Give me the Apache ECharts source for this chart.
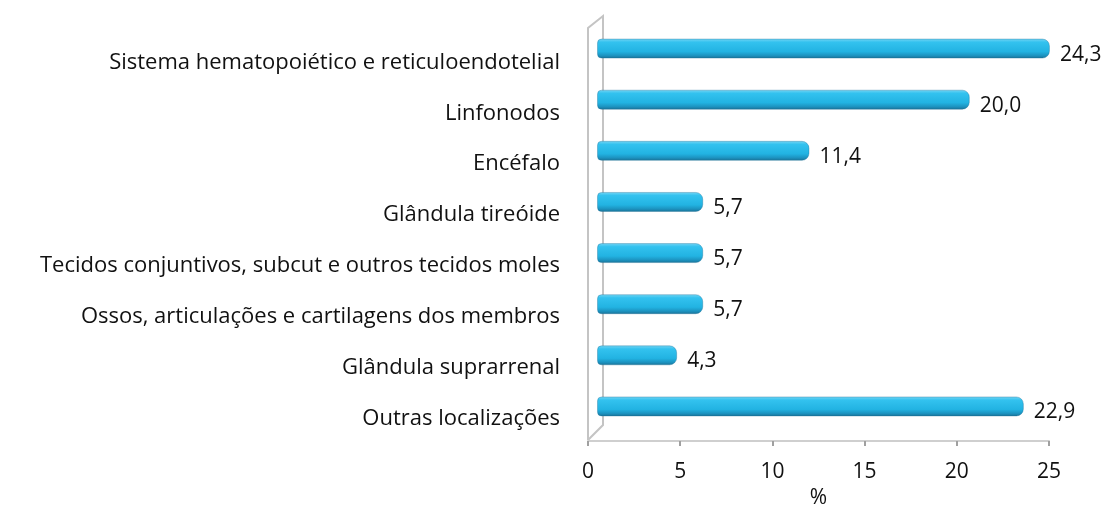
<!DOCTYPE html>
<html>
<head>
<meta charset="utf-8">
<script src="https://cdn.jsdelivr.net/npm/echarts@6/dist/echarts.min.js"></script>
<style>
  html, body { margin: 0; padding: 0; background: #fff; }
  #chart { width: 1110px; height: 507px; }
</style>
</head>
<body>
<div id="chart"></div>
<script>
// Localização dos tumores (%)
const categories = [
  'Sistema hematopoiético e reticuloendotelial',
  'Linfonodos',
  'Encéfalo',
  'Glândula tireóide',
  'Tecidos conjuntivos, subcut e outros tecidos moles',
  'Ossos, articulações e cartilagens dos membros',
  'Glândula suprarrenal',
  'Outras localizações'
];
const values = [24.3, 20.0, 11.4, 5.7, 5.7, 5.7, 4.3, 22.9];
const xTicks = [0, 5, 10, 15, 20, 25];

const FONT = 'Open Sans';
const fmt = v => v.toFixed(1).replace('.', ',');

// front plane (value axis), label column, and back plane (bars) of the 3D box
const axisGrid = { left: 588, right: 61, top: 34, bottom: 66, outerBoundsMode: 'none' };
const labelGrid = { left: 588, right: 61, top: 37, bottom: 63, outerBoundsMode: 'none' };
const barGrid = { left: 597, right: 47, top: 23, bottom: 75, outerBoundsMode: 'none' };

const chart = echarts.init(document.getElementById('chart'), null, { renderer: 'canvas' });

const barGradient = new echarts.graphic.LinearGradient(0, 0, 0, 1, [
  { offset: 0, color: '#7ad6f4' },
  { offset: 0.18, color: '#33c2ef' },
  { offset: 0.65, color: '#22b3e2' },
  { offset: 0.85, color: '#1c93c0' },
  { offset: 1, color: '#1a6f93' }
]);

const valueRange = { type: 'value', min: xTicks[0], max: xTicks[xTicks.length - 1], interval: 5 };

chart.setOption({
  animation: false,
  backgroundColor: '#ffffff',
  grid: [axisGrid, labelGrid, barGrid],
  xAxis: [
    Object.assign({
      gridIndex: 0,
      name: '%', nameLocation: 'middle', nameGap: 43,
      nameTextStyle: { fontFamily: FONT, fontSize: 21, color: '#111' },
      axisLine: { show: true, lineStyle: { color: '#cfcfcf', width: 2 } },
      axisTick: { show: true, length: 5, lineStyle: { color: '#a0a0a0', width: 2 } },
      axisLabel: { fontFamily: FONT, fontSize: 21, color: '#111', margin: 21 },
      splitLine: { show: false }
    }, valueRange),
    Object.assign({ gridIndex: 1, show: false, splitLine: { show: false } }, valueRange),
    Object.assign({ gridIndex: 2, show: false, splitLine: { show: false } }, valueRange)
  ],
  yAxis: [
    { gridIndex: 0, type: 'category', data: categories, inverse: true, show: false },
    {
      gridIndex: 1, type: 'category', data: categories, inverse: true,
      axisLine: { show: false }, axisTick: { show: false },
      axisLabel: { fontFamily: FONT, fontSize: 22, color: '#111', margin: 28 }
    },
    { gridIndex: 2, type: 'category', data: categories, inverse: true, show: false }
  ],
  series: [{
    type: 'bar',
    xAxisIndex: 2, yAxisIndex: 2,
    data: values,
    barWidth: 20,
    itemStyle: {
      color: barGradient,
      borderRadius: [4, 7, 7, 4],
      borderColor: 'rgba(25,110,150,0.35)',
      borderWidth: 1
    },
    label: {
      show: true, position: 'right', distance: 10, offset: [0, 6],
      fontFamily: FONT, fontSize: 21, color: '#111',
      formatter: p => fmt(p.value)
    }
  }]
});

// side wall of the 3D frame, placed from the axis scale
function drawFrame() {
  const x0 = chart.convertToPixel({ xAxisIndex: 0 }, 0);
  const yBottom = chart.getHeight() - axisGrid.bottom - 1;
  const yTop = 28;
  const dx = 15, dy = 12;
  chart.setOption({
    graphic: [
      { type: 'polyline', silent: true, z: 0,
        shape: { points: [[x0, yBottom], [x0, yTop], [x0 + dx, yTop - dy], [x0 + dx, yBottom - dy - 3], [x0, yBottom]] },
        style: { stroke: '#c4c4c4', lineWidth: 2, fill: null } }
    ]
  });
}
drawFrame();
</script>
</body>
</html>
